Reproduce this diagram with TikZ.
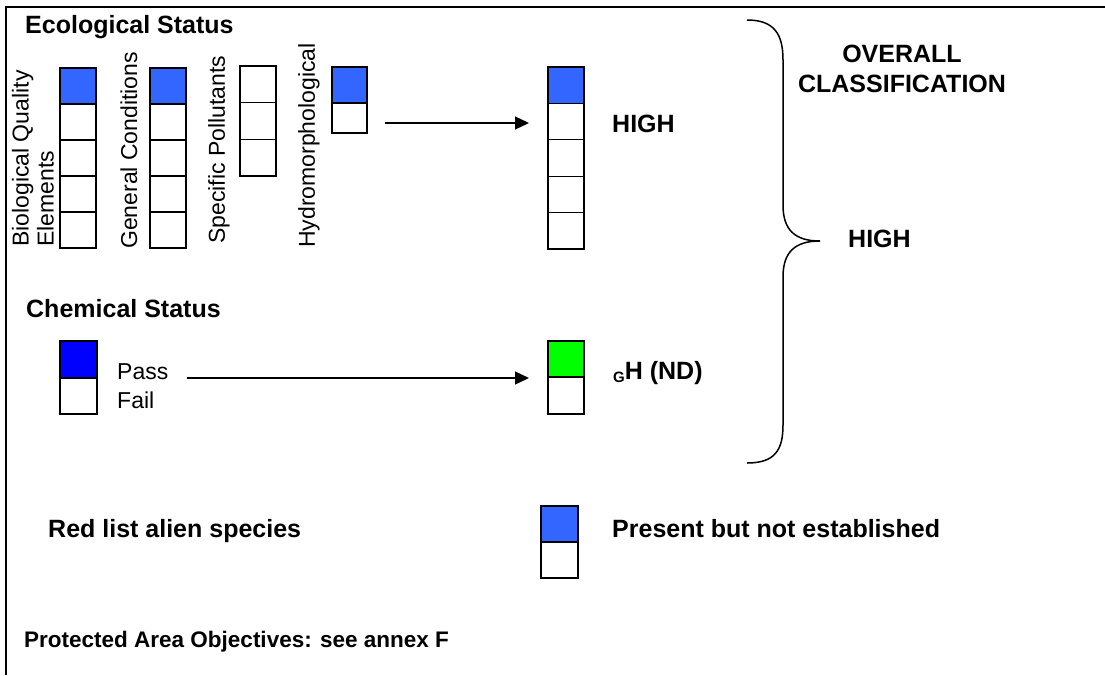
\documentclass[tikz,border=0pt]{standalone}
\usepackage{fontspec}
\setmainfont{Liberation Sans}
\usetikzlibrary{arrows.meta}
\definecolor{qblue}{RGB}{51,102,255}
\definecolor{pblue}{RGB}{0,0,255}
\definecolor{pgreen}{RGB}{0,255,0}
\tikzset{
  cell/.style={draw=black, line width=1.3pt, fill=white, inner sep=0pt, outer sep=0pt},
  bl/.style={font=\bfseries\fontsize{25}{30}\selectfont, inner sep=0pt},
  rg/.style={font=\fontsize{23}{25}\selectfont, inner sep=0pt},
  sm/.style={font=\bfseries\fontsize{22.5}{25}\selectfont, inner sep=0pt},
  conn/.style={line width=1.3pt, -{Triangle[length=14pt,width=13pt]}},
  frame/.style={line width=1.6pt},
  brace/.style={line width=1.5pt},
}
\begin{document}
\begin{tikzpicture}[x=1pt,y=-1pt]
\useasboundingbox (0,0) rectangle (1105,675);
% frame
\draw[frame] (6,675) -- (6,7) -- (1105,7);
% headings
\node[bl, anchor=base west] (eco) at (25,33) {Ecological Status};
\node[bl, anchor=base west] (chem) at (26,317) {Chemical Status};
% rotated labels
\node[rg, rotate=90, anchor=west, align=left] (lbio) at (33,247) {Biological Quality\\Elements};
\node[rg, rotate=90, anchor=west] (lgen) at (129,249) {General Conditions};
\node[rg, rotate=90, anchor=west] (lspe) at (219,244) {Specific Pollutants};
\node[rg, rotate=90, anchor=west] (lhyd) at (309,248) {Hydromorphological};
% column 1: biological quality elements
\node[cell, fill=qblue, minimum width=36pt, minimum height=36pt] (bq0) at (78,86) {};
\foreach \i in {1,...,4}
  \node[cell, minimum width=36pt, minimum height=36pt] (bq\i) at (78,{86+36*\i}) {};
% column 2: general conditions
\node[cell, fill=qblue, minimum width=36pt, minimum height=36pt] (gc0) at (168,86) {};
\foreach \i in {1,...,4}
  \node[cell, minimum width=36pt, minimum height=36pt] (gc\i) at (168,{86+36*\i}) {};
% column 3: specific pollutants
\foreach \i in {0,...,2}
  \node[cell, minimum width=36pt, minimum height=36.7pt] (sp\i) at (258,{84.35+36.7*\i}) {};
% column 4: hydromorphological
\node[cell, fill=qblue, minimum width=35pt, minimum height=36pt] (hy0) at (349.5,85) {};
\node[cell, minimum width=35pt, minimum height=30pt] (hy1) at (349.5,118) {};
% result column
\node[cell, fill=qblue, minimum width=36pt, minimum height=36.4pt] (rs0) at (566,85.2) {};
\foreach \i in {1,...,4}
  \node[cell, minimum width=36pt, minimum height=36.4pt] (rs\i) at (566,{85.2+36.4*\i}) {};
\node[bl, anchor=base west] (high1) at (612,132) {HIGH};
% arrow 1
\coordinate (a1s) at (385,123);
\coordinate (a1e) at (529,123);
\draw[conn] (a1s) -- (a1e);
% chemical status
\node[cell, fill=pblue, minimum width=37pt, minimum height=37pt] (ch0) at (78.5,359.5) {};
\node[cell, minimum width=37pt, minimum height=36pt] (ch1) at (78.5,396) {};
\node[rg, anchor=base west] (pass) at (117,379) {Pass};
\node[rg, anchor=base west] (fail) at (117,408) {Fail};
\node[cell, fill=pgreen, minimum width=36pt, minimum height=36pt] (gr0) at (566,359) {};
\node[cell, minimum width=36pt, minimum height=37pt] (gr1) at (566,395.5) {};
\node[bl, anchor=base west] (gh) at (613,379) {\raisebox{-3pt}{\fontsize{15}{15}\selectfont G}H (ND)};
\coordinate (a2s) at (187,378);
\coordinate (a2e) at (529,378);
\draw[conn] (a2s) -- (a2e);
% brace
\draw[brace] (747,20) .. controls (775,20) and (783,35) .. (783,60)
  -- (783,205) .. controls (783,230) and (795,241) .. (820,241)
  .. controls (795,241) and (783,252) .. (783,277)
  -- (783,425) .. controls (783,450) and (775,463) .. (747,463);
\node[bl, align=center, anchor=base] (overall) at (902,92) {OVERALL\\CLASSIFICATION};
\node[bl, anchor=base west] (high2) at (848,247) {HIGH};
% legend
\node[bl, anchor=base west] (red) at (48,537) {Red list alien species};
\node[cell, fill=qblue, minimum width=37pt, minimum height=36pt] (lg0) at (559.5,524) {};
\node[cell, minimum width=37pt, minimum height=36pt] (lg1) at (559.5,560) {};
\node[bl, anchor=base west] (present) at (612,537) {Present but not established};
\node[sm, anchor=base west] (prot) at (24,647) {Protected Area Objectives: see annex F};
\end{tikzpicture}
\end{document}
